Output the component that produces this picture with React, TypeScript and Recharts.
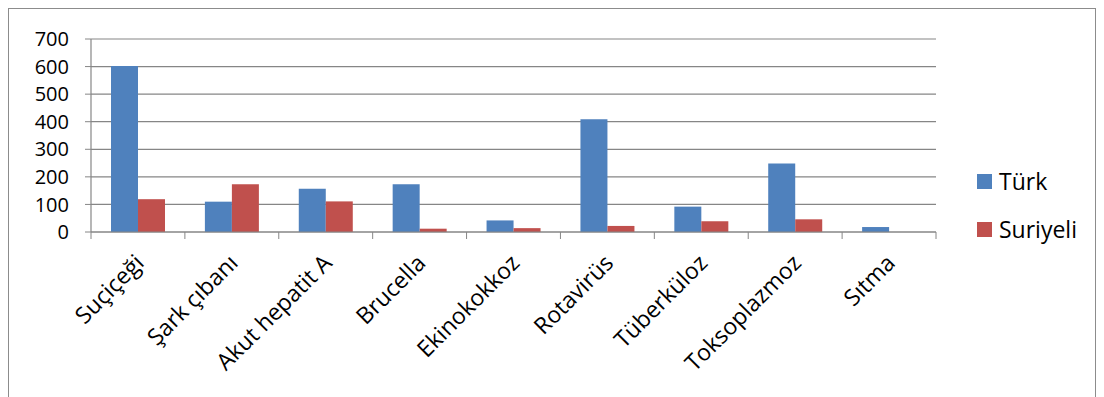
import { ComposedChart, Bar, XAxis, YAxis, CartesianGrid } from "recharts";

const categories = [
  "Suçiçeği",
  "Şark çıbanı",
  "Akut hepatit A",
  "Brucella",
  "Ekinokokkoz",
  "Rotavirüs",
  "Tüberküloz",
  "Toksoplazmoz",
  "Sıtma",
];
const turk = [602, 110, 157, 173, 42, 409, 92, 248, 18];
const suriyeli = [119, 173, 111, 12, 14, 22, 39, 46, 0];
const yTicks = [0, 100, 200, 300, 400, 500, 600, 700];

const COLORS = { turk: "#4F81BD", suriyeli: "#C0504D" };
const FONT = "'Open Sans', 'Liberation Sans', sans-serif";

const data = categories.map((name, i) => ({ name, turk: turk[i], suriyeli: suriyeli[i] }));

const CHART_W = 1086;
const MARGIN = { top: 30, right: 159, left: 0, bottom: 0 };
const Y_W = 82;
const HALF_BAND = (CHART_W - MARGIN.right - Y_W) / categories.length / 2;

const XTick = (props: any) => {
  const { x, y, payload, index } = props;
  const ax = x - 1;
  const ay = y + 16;
  return (
    <g>
      <line x1={x - HALF_BAND} x2={x - HALF_BAND} y1={y - 8} y2={y - 1} stroke="#868686" />
      {index === categories.length - 1 && (
        <line x1={x + HALF_BAND} x2={x + HALF_BAND} y1={y - 8} y2={y - 1} stroke="#868686" />
      )}
      <text
        x={ax}
        y={ay}
        textAnchor="end"
        transform={`rotate(-45, ${ax}, ${ay})`}
        fontSize={23}
        fontFamily={FONT}
        fill="#000"
        dy={12}
      >
        {payload.value}
      </text>
    </g>
  );
};

export default function App() {
  return (
    <div
      style={{
        position: "relative",
        width: CHART_W,
        height: 400,
        border: "1px solid #8c8c8c",
        background: "#fff",
      }}
    >
      <ComposedChart width={CHART_W} height={390} data={data} margin={MARGIN} barGap={0} barCategoryGap={20}>
        <CartesianGrid horizontal vertical={false} stroke="#868686" strokeWidth={1.2} />
        <XAxis
          dataKey="name"
          interval={0}
          height={167}
          tickLine={false}
          axisLine={{ stroke: "#868686", strokeWidth: 1.2 }}
          tick={<XTick />}
        />
        <YAxis
          width={Y_W}
          domain={[0, 700]}
          ticks={yTicks}
          interval={0}
          tickSize={6}
          tickMargin={16}
          tickLine={{ stroke: "#868686" }}
          axisLine={{ stroke: "#868686", strokeWidth: 1.2 }}
          tick={{ fontSize: 20, fill: "#000", fontFamily: FONT }}
        />
        <Bar dataKey="turk" name="Türk" fill={COLORS.turk} isAnimationActive={false} />
        <Bar dataKey="suriyeli" name="Suriyeli" fill={COLORS.suriyeli} isAnimationActive={false} />
      </ComposedChart>
      <div style={{ position: "absolute", left: 968, top: 156, fontFamily: FONT, fontSize: 23 }}>
        {[
          { label: "Türk", color: COLORS.turk },
          { label: "Suriyeli", color: COLORS.suriyeli },
        ].map((it) => (
          <div key={it.label} style={{ display: "flex", alignItems: "center", height: 32, marginBottom: 16 }}>
            <span style={{ width: 15, height: 15, background: it.color, display: "inline-block", marginRight: 7 }} />
            <span>{it.label}</span>
          </div>
        ))}
      </div>
    </div>
  );
}
